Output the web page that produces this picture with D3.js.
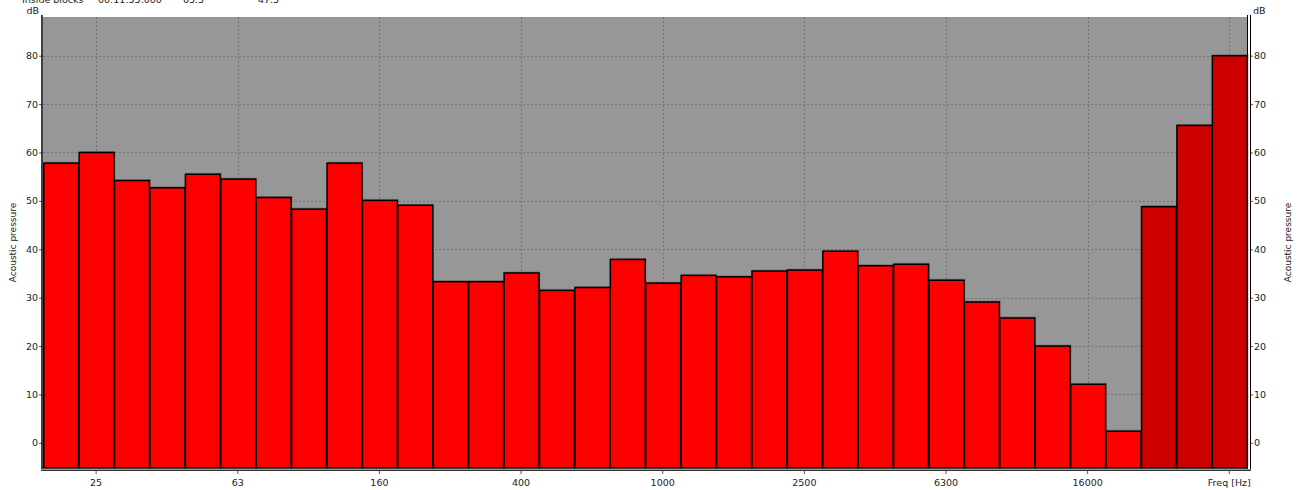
<!DOCTYPE html>
<meta charset="utf-8">
<style>
body { margin: 0; background: #fff; }
svg { display: block; }
text { font-family: "DejaVu Sans", sans-serif; font-size: 9.5px; fill: #222; }
.grid line { stroke: #747474; stroke-dasharray: 2,2; stroke-width: 1px; shape-rendering: crispEdges; }
.bar { stroke: #000; stroke-width: 1.5px; }
</style>
<svg width="1303" height="490"></svg>
<script src="https://d3js.org/d3.v7.min.js"></script>
<script>
// third-octave bands, Hz
var bands = ["20","25","31.5","40","50","63","80","100","125","160","200","250","315","400","500","630",
             "800","1000","1250","1600","2000","2500","3150","4000","5000","6300","8000","10000","12500",
             "16000","20000","25000","31500","40000"];
var levels = [57.8, 60.0, 54.2, 52.7, 55.5, 54.5, 50.7, 48.3, 57.8, 50.1, 49.1, 33.3, 33.3, 35.1, 31.5, 32.1,
              37.9, 33.0, 34.6, 34.3, 35.5, 35.7, 39.6, 36.6, 36.9, 33.6, 29.1, 25.8, 20.0,
              12.1, 2.4, 48.8, 65.6, 80.0];
// bands shown in darker red
var darkBands = ["25000","31500","40000"];
var xTicks = ["25","63","160","400","1000","2500","6300","16000","40000"];
var xTickLabels = {"40000": "Freq [Hz]"};
var yTicks = [0,10,20,30,40,50,60,70,80];
var header = [["Inside blocks", 22], ["00:11:55.000", 98], ["65.5", 183], ["47.5", 258]];

var svg = d3.select("svg"),
    pLeft = 43, pRight = 1247, pTop = 17, pBottom = 468;

var x = d3.scaleBand().domain(bands).range([pLeft, pRight]).padding(0);
var y = d3.scaleLinear().domain([-5.2, 88]).range([pBottom, pTop]);

// header (cut off at top, like the reference)
svg.selectAll(".hdr").data(header).enter().append("text")
    .attr("x", function(d) { return d[1]; })
    .attr("y", 3)
    .text(function(d) { return d[0]; });

// plot background
svg.append("rect")
    .attr("x", pLeft).attr("y", pTop)
    .attr("width", pRight - pLeft).attr("height", pBottom - pTop)
    .attr("fill", "#979797");

// grid
var grid = svg.append("g").attr("class", "grid");
grid.selectAll(".h").data(yTicks).enter().append("line")
    .attr("x1", pLeft).attr("x2", pRight)
    .attr("y1", function(d) { return Math.round(y(d)) + 0.5; })
    .attr("y2", function(d) { return Math.round(y(d)) + 0.5; });
grid.selectAll(".v").data(xTicks).enter().append("line")
    .attr("y1", pTop).attr("y2", pBottom)
    .attr("x1", function(d) { return Math.round(x(d) + x.bandwidth() / 2) + 0.5; })
    .attr("x2", function(d) { return Math.round(x(d) + x.bandwidth() / 2) + 0.5; });

// bar shadows
svg.selectAll(".shadow").data(levels).enter().append("rect")
    .attr("x", function(d, i) { return x(bands[i]) + 1.5; })
    .attr("y", function(d) { return y(d) - 1.5; })
    .attr("width", x.bandwidth())
    .attr("height", function(d) { return pBottom - y(d); })
    .attr("fill", "#5a5a5a")
    .attr("opacity", 0.5);

// bars
svg.selectAll(".bar").data(levels).enter().append("rect")
    .attr("class", "bar")
    .attr("x", function(d, i) { return x(bands[i]) + 0.75; })
    .attr("y", function(d) { return y(d); })
    .attr("width", x.bandwidth() - 0.5)
    .attr("height", function(d) { return pBottom - y(d); })
    .attr("fill", function(d, i) { return darkBands.indexOf(bands[i]) >= 0 ? "#cc0000" : "#ff0000"; });

// axes
var yAxisL = d3.axisLeft(y).tickValues(yTicks).tickSize(3).tickPadding(1);
var gl = svg.append("g").attr("transform", "translate(" + (pLeft - 1) + ",0)").call(yAxisL);
var yAxisR = d3.axisRight(y).tickValues(yTicks).tickSize(3).tickPadding(1);
var gr = svg.append("g").attr("transform", "translate(" + (pRight + 3) + ",0)").call(yAxisR);
var xAxis = d3.axisBottom(x).tickValues(xTicks).tickSize(3).tickPadding(3)
    .tickFormat(function(d) { return xTickLabels[d] || d; });
var gx = svg.append("g").attr("transform", "translate(0," + (pBottom + 3) + ")").call(xAxis);

[gl, gr, gx].forEach(function(g) {
  g.select(".domain").remove();
  g.selectAll("line").attr("stroke", "#555");
  g.selectAll("text").style("font-family", "DejaVu Sans, sans-serif").style("font-size", "9.5px").attr("fill", "#222");
});
gx.selectAll("text").attr("dy", "0.9em");

// axis lines
svg.append("line").attr("x1", pLeft - 1).attr("x2", pLeft - 1).attr("y1", pTop - 2).attr("y2", pBottom + 3)
    .attr("stroke", "#000").attr("stroke-width", 1.5);
svg.append("line").attr("x1", pRight + 0.5).attr("x2", pRight + 0.5).attr("y1", pTop - 2).attr("y2", pBottom + 1)
    .attr("stroke", "#000").attr("stroke-width", 1);
svg.append("line").attr("x1", pRight + 3.5).attr("x2", pRight + 3.5).attr("y1", pTop - 2).attr("y2", pBottom + 3)
    .attr("stroke", "#000").attr("stroke-width", 1);
svg.append("line").attr("x1", pLeft - 2).attr("x2", pRight + 4).attr("y1", pBottom + 1.5).attr("y2", pBottom + 1.5)
    .attr("stroke", "#999").attr("stroke-width", 1);
svg.append("line").attr("x1", pLeft - 2).attr("x2", pRight + 4).attr("y1", pBottom + 2.5).attr("y2", pBottom + 2.5)
    .attr("stroke", "#333").attr("stroke-width", 1);

// unit labels
svg.append("text").attr("x", pLeft - 4).attr("y", 14).attr("text-anchor", "end").text("dB");
svg.append("text").attr("x", pRight + 6).attr("y", 14).text("dB");

// axis titles
svg.append("text").attr("transform", "translate(16," + ((pTop + pBottom) / 2) + ") rotate(-90)")
    .attr("text-anchor", "middle").style("font-size", "9px").text("Acoustic pressure");
svg.append("text").attr("transform", "translate(1291," + ((pTop + pBottom) / 2) + ") rotate(-90)")
    .attr("text-anchor", "middle").style("font-size", "9px").text("Acoustic pressure");
</script>
